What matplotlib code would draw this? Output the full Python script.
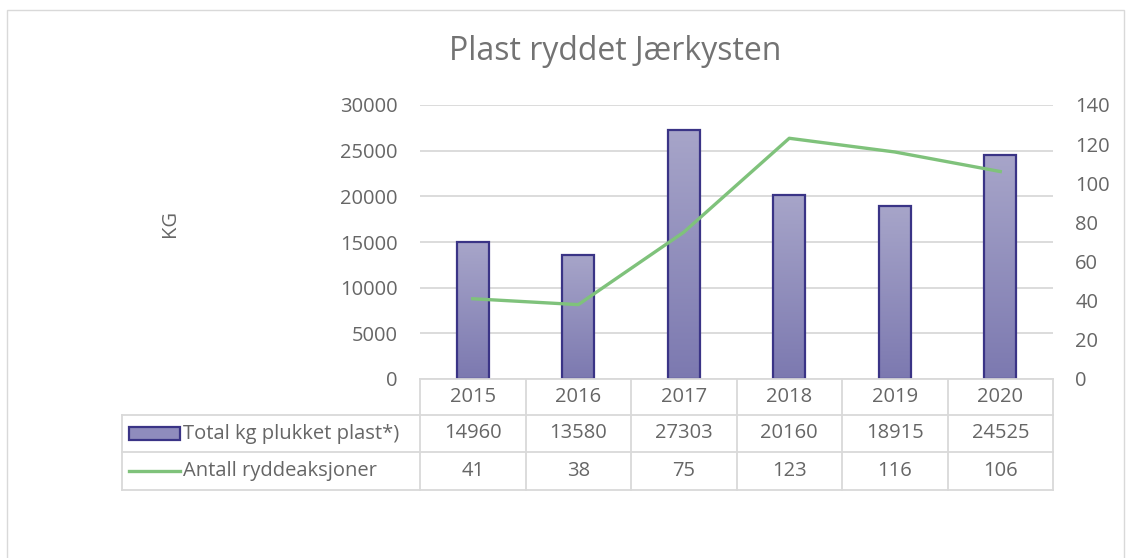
import matplotlib
matplotlib.use("Agg")
import matplotlib.pyplot as plt
import numpy as np
from matplotlib.colors import LinearSegmentedColormap
from matplotlib.lines import Line2D
from matplotlib.patches import Rectangle

years = ["2015", "2016", "2017", "2018", "2019", "2020"]
kg_plast = [14960, 13580, 27303, 20160, 18915, 24525]
aksjoner = [41, 38, 75, 123, 116, 106]
bar_label = "Total kg plukket plast*)"
line_label = "Antall ryddeaksjoner"
title = "Plast ryddet Jærkysten"
ylabel = "KG"
left_ticks = [0, 5000, 10000, 15000, 20000, 25000, 30000]
right_ticks = [0, 20, 40, 60, 80, 100, 120, 140]

W, H = 1128, 558
plt.rcParams['font.family'] = ['Open Sans', 'DejaVu Sans']
TXT = '#666666'
TITLE = '#737373'
GRID = '#d9d9d9'
EDGE = '#3a3486'
GREEN = '#7fc27b'
FS = 14.5

fig = plt.figure(figsize=(W / 100, H / 100), dpi=100)
fig.patch.set_facecolor('white')

def fx(x):
    return x / W

def fy(y):
    return 1 - y / H

# outer chart border (bottom edge lies outside the image)
fig.add_artist(Rectangle((fx(7), fy(580)), fx(1124) - fx(7), (580 - 10) / H, transform=fig.transFigure,
                         fill=False, edgecolor=GRID, lw=1.0))

L, R, T, B = 420, 1053, 105, 379
ax = fig.add_axes([fx(L), fy(B), (R - L) / W, (B - T) / H])
ax2 = ax.twinx()

n = len(years)
x = np.arange(n)
bw = 0.3
bars = ax.bar(x, kg_plast, width=bw, facecolor='none', edgecolor=EDGE, linewidth=1.6, zorder=3)
cmap = LinearSegmentedColormap.from_list('g', ['#7c79b0', '#a7a5c9'])
grad = np.linspace(0, 1, 256).reshape(-1, 1)
for b, v in zip(bars, kg_plast):
    im = ax.imshow(grad, extent=[b.get_x(), b.get_x() + b.get_width(), 0, v], origin='lower',
                   aspect='auto', cmap=cmap, zorder=2)
    im.set_clip_path(b)

ax.set_xlim(-0.5, n - 0.5)
ax.set_ylim(0, 30000)
ax.set_yticks(left_ticks)
ax.set_yticklabels([str(t) for t in left_ticks])
ax.set_xticks([])
ax.yaxis.grid(True, color=GRID, lw=1.3, zorder=0)
ax.set_axisbelow(True)
for s in ax.spines.values():
    s.set_visible(False)
ax.tick_params(axis='y', length=0, labelsize=FS, labelcolor=TXT, pad=16)

ax2.plot(x, aksjoner, color=GREEN, lw=2.4, solid_joinstyle='round', zorder=4)
ax2.set_ylim(0, 140)
ax2.set_yticks(right_ticks)
ax2.set_yticklabels([str(t) for t in right_ticks])
for s in ax2.spines.values():
    s.set_visible(False)
ax2.tick_params(axis='y', length=0, labelsize=FS, labelcolor=TXT, pad=16)
ax2.set_xlim(-0.5, n - 0.5)

# title and y label
fig.text(fx(615), fy(51), title, ha='center', va='center', fontsize=23, color=TITLE)
fig.text(fx(170), fy(223), ylabel, ha='center', va='center', fontsize=FS, color=TXT, rotation=90)

# data table
rows = [379, 415, 452, 490]
colw = (R - L) / n
TL = 122

def hline(y, x0, x1):
    fig.add_artist(Line2D([fx(x0), fx(x1)], [fy(y), fy(y)], transform=fig.transFigure, color=GRID, lw=1.3))

def vline(xp, y0, y1):
    fig.add_artist(Line2D([fx(xp), fx(xp)], [fy(y0), fy(y1)], transform=fig.transFigure, color=GRID, lw=1.3))

hline(rows[0], L, R)
for yv in rows[1:]:
    hline(yv, TL, R)
vline(TL, rows[1], rows[3])
for i in range(n + 1):
    vline(L + i * colw, rows[0], rows[3])

for i in range(n):
    cx = L + (i + 0.5) * colw
    fig.text(fx(cx), fy((rows[0] + rows[1]) / 2), years[i], ha='center', va='center', fontsize=FS, color=TXT)
    fig.text(fx(cx), fy((rows[1] + rows[2]) / 2), str(kg_plast[i]), ha='center', va='center', fontsize=FS, color=TXT)
    fig.text(fx(cx), fy((rows[2] + rows[3]) / 2), str(aksjoner[i]), ha='center', va='center', fontsize=FS, color=TXT)

# legend keys
key = Rectangle((fx(129), fy(440)), fx(180) - fx(129), (440 - 427) / H, transform=fig.transFigure,
                facecolor='#8f8cbd', edgecolor=EDGE, lw=1.6)
fig.add_artist(key)
fig.add_artist(Line2D([fx(129), fx(180)], [fy(471), fy(471)], transform=fig.transFigure, color=GREEN, lw=2.4))
fig.text(fx(183), fy((rows[1] + rows[2]) / 2), bar_label, ha='left', va='center', fontsize=FS, color=TXT)
fig.text(fx(183), fy((rows[2] + rows[3]) / 2), line_label, ha='left', va='center', fontsize=FS, color=TXT)

fig.savefig('out.png', dpi=100, facecolor='white')
